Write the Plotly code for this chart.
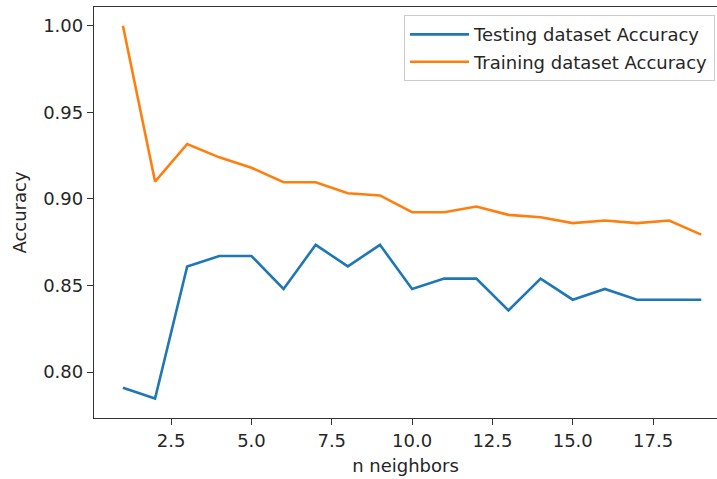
import plotly.graph_objects as go

neighbors = list(range(1, 20))
test_acc = [0.791, 0.7847, 0.861, 0.867, 0.867, 0.848, 0.8735, 0.861, 0.8735, 0.848,
            0.854, 0.854, 0.8356, 0.854, 0.8418, 0.848, 0.8418, 0.8418, 0.8418]
train_acc = [1.0, 0.910, 0.9317, 0.924, 0.918, 0.9096, 0.9096, 0.9033, 0.902, 0.8923,
             0.8923, 0.8956, 0.8908, 0.8894, 0.886, 0.8875, 0.886, 0.8875, 0.8794]

font = dict(family="DejaVu Sans", size=18, color="#262626")

fig = go.Figure()
fig.add_trace(go.Scatter(x=neighbors, y=test_acc, mode="lines",
                         name="Testing dataset Accuracy", legendgroup="a",
                         line=dict(color="#1f77b4", width=2.6)))
fig.add_trace(go.Scatter(x=neighbors, y=train_acc, mode="lines",
                         name="Training dataset Accuracy", legendgroup="b",
                         line=dict(color="#ff7f0e", width=2.6)))

fig.update_layout(
    width=717, height=479,
    margin=dict(l=94, r=0, t=7, b=61),
    plot_bgcolor="white", paper_bgcolor="white",
    font=font,
    showlegend=True,
    legend=dict(x=0.4976, y=0.980, xanchor="left", yanchor="top",
                bgcolor="rgba(255,255,255,0.8)", bordercolor="#cccccc", borderwidth=1,
                font=font, traceorder="grouped", tracegroupgap=1, itemwidth=59),
    xaxis=dict(range=[0.1, 19.49], tick0=0, dtick=2.5, tickformat=".1f",
               showgrid=False, zeroline=False,
               showline=True, linecolor="#333333", linewidth=1.3, mirror=True,
               ticks="outside", ticklen=6, tickcolor="#333333",
               title=dict(text="n neighbors", standoff=9, font=font)),
    yaxis=dict(range=[0.7735, 1.0108], tick0=0, dtick=0.05, tickformat=".2f",
               showgrid=False, zeroline=False,
               showline=True, linecolor="#333333", linewidth=1.3,
               ticks="outside", ticklen=6, tickcolor="#333333",
               title=dict(text="Accuracy", standoff=11, font=font)),
)

fig.write_html("out.html", config={"displayModeBar": False},
               post_script="document.body.style.margin='0';")
